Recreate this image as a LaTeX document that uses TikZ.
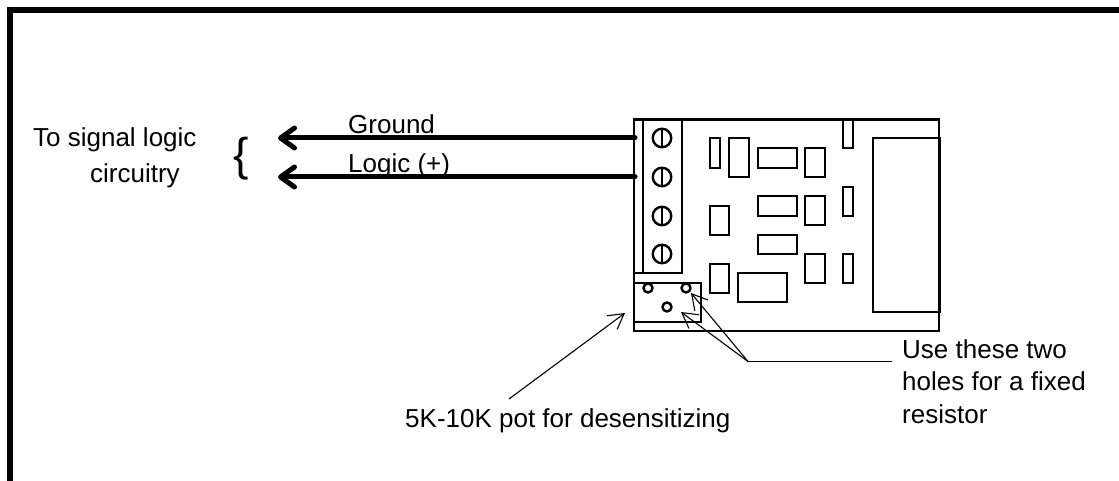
\documentclass[tikz,border=0pt]{standalone}
\usepackage{fontspec}
\setmainfont{Liberation Sans}
\usetikzlibrary{arrows.meta}
\tikzset{
  px/.style={x=1pt,y=-1pt},
  part/.style={draw=black,line width=2.4pt,fill=none},
  thin arrow/.style={draw=black,line width=1.1pt,-{Straight Barb[length=15pt,width=17pt,line width=1.1pt]}},
  wire/.style={draw=black,line width=5pt,line cap=round,-{Straight Barb[length=14pt,width=20pt,line width=5pt,round]}},
  label/.style={inner sep=0pt,font=\fontsize{26pt}{30pt}\selectfont,anchor=base west},
  hole/.style={circle,draw=black,line width=2.4pt,minimum size=9pt,inner sep=0pt},
  screw/.style={circle,draw=black,line width=2.4pt,minimum size=18.5pt,inner sep=0pt}
}
\begin{document}
\begin{tikzpicture}[px]
\useasboundingbox (0,0) rectangle (1119,481);
\draw[line width=6pt,miter limit=10] (10,481) -- (10,10) -- (1119,10);
% board
\draw[part] (634,119.5) rectangle (939,331);
\draw[part] (643,119.5) rectangle (682,273);
\draw[part] (634,273) -- (643,273);
\draw[part] (873,138) rectangle (939.7,312);
% screws
\foreach \n/\y in {s1/138,s2/177,s3/216,s4/254}{
  \node[screw] (\n) at (662,\y) {};
  \draw[line width=2.4pt] (\n.north) -- (\n.south);
}
% parts
\foreach \a/\b/\c/\d in {
 710/138/720/168, 729/138/749/177, 758/148/797/168, 805/148/825/177,
 843/119.5/853/148, 843/187/853/216,
 758/196/797/216, 805/196/825/225, 710/206/729/235,
 758/235/797/254, 805/254/825/283, 843/254/853/283,
 710/264/729/293, 738/273/787/302}
 {\draw[part] (\a,\b) rectangle (\c,\d);}
% pot
\draw[part] (634,283) rectangle (701,322);
\node[hole] (h1) at (648,288) {};
\node[hole] (h2) at (686,288) {};
\node[hole] (h3) at (667,307) {};
% leader
\coordinate (lead) at (748,361.5);
\coordinate (leadend) at (892,361.5);
\coordinate (potfree) at (509,399);
\coordinate (pottip) at (625,313);
\coordinate (t1) at (691,293);
\coordinate (t2) at (681,312);
\draw[line width=1.1pt] (leadend) -- (lead);
\draw[thin arrow] (lead) -- (t1);
\draw[thin arrow] (lead) -- (t2);
\draw[thin arrow] (potfree) -- (pottip);
% wires
\coordinate (g) at (635,138);
\coordinate (l) at (635,177);
\coordinate (gt) at (278,138);
\coordinate (lt) at (278,177);
\draw[wire] (g) -- (gt);
\draw[wire] (l) -- (lt);
% texts
\node[label] (tg) at (348,134) {Ground};
\node[label] (tl) at (348,173) {Logic (+)};
\node[label] (ts1) at (33,147) {To signal logic};
\node[label] (ts2) at (90,183) {circuitry};
\node[inner sep=0pt,font=\fontsize{46pt}{46pt}\selectfont] (br) at (241,159) {\{};
\node[label] (p) at (405,427) {5K-10K pot for desensitizing};
\node[label] (u1) at (902,358) {Use these two};
\node[label] (u2) at (902,390) {holes for a fixed};
\node[label] (u3) at (902,423) {resistor};
\end{tikzpicture}
\end{document}
